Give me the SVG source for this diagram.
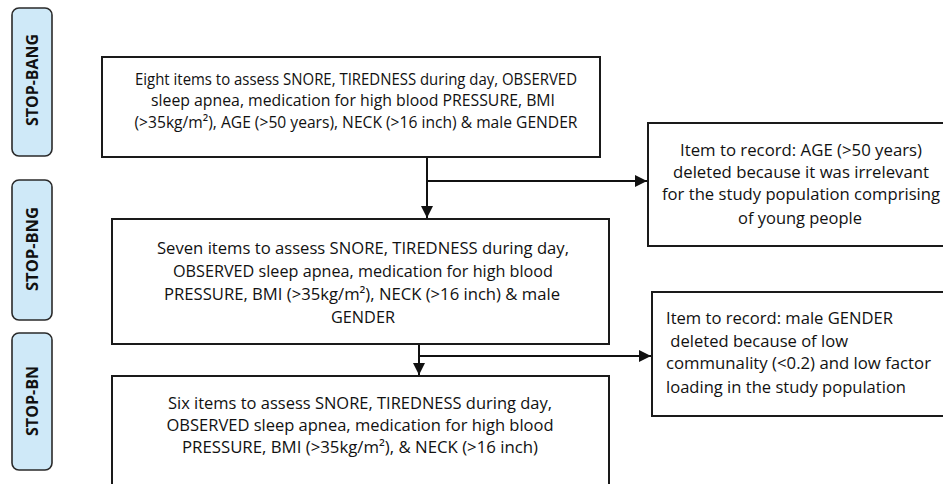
<svg xmlns="http://www.w3.org/2000/svg" width="943" height="484" viewBox="0 0 943 484">
<style>
.pill{fill:#cfe9f8;stroke:#2a2a2a;stroke-width:1.6}
.box{fill:#fff;stroke:#1a1a1a;stroke-width:2}
.lbl{font-family:"Open Sans","Noto Sans",sans-serif;font-weight:bold;font-size:16.5px;fill:#111;text-anchor:middle}
.t{font-family:"Open Sans","Noto Sans",sans-serif;font-size:16.5px;fill:#111;text-anchor:middle}
.tl{font-family:"Open Sans","Noto Sans",sans-serif;font-size:16.5px;fill:#111}
.c{stroke:#111;stroke-width:2;fill:none}
</style>
<defs>
<marker id="ah" viewBox="0 0 10 10" refX="10" refY="5" markerWidth="6" markerHeight="6" orient="auto" markerUnits="strokeWidth">
<path d="M0,0 L10,5 L0,10 Z" fill="#111"/>
</marker>
</defs>
<rect width="943" height="484" fill="#fff"/>

<g id="label-stop-bang">
<rect class="pill" x="12" y="8" width="40" height="148" rx="7"/>
<text class="lbl" transform="translate(38,80) rotate(-90)" textLength="92" lengthAdjust="spacingAndGlyphs">STOP-BANG</text>
</g>
<g id="label-stop-bng">
<rect class="pill" x="12" y="180" width="40" height="140" rx="7"/>
<text class="lbl" transform="translate(38,249) rotate(-90)" textLength="84" lengthAdjust="spacingAndGlyphs">STOP-BNG</text>
</g>
<g id="label-stop-bn">
<rect class="pill" x="12" y="333" width="40" height="137" rx="7"/>
<text class="lbl" transform="translate(38,401) rotate(-90)" textLength="70" lengthAdjust="spacingAndGlyphs">STOP-BN</text>
</g>

<g id="connectors">
<path class="c" d="M427,157 V218" marker-end="url(#ah)"/>
<path class="c" d="M427,181 H647" marker-end="url(#ah)"/>
<path class="c" d="M419,344 V375" marker-end="url(#ah)"/>
<path class="c" d="M419,356 H651" marker-end="url(#ah)"/>
</g>

<g id="stop-bang">
<rect class="box" x="102" y="57" width="498" height="100"/>
<text class="t" x="356" y="85" textLength="442" lengthAdjust="spacingAndGlyphs">Eight items to assess SNORE, TIREDNESS during day, OBSERVED</text>
<text class="t" x="353" y="106" textLength="404" lengthAdjust="spacingAndGlyphs">sleep apnea, medication for high blood PRESSURE, BMI</text>
<text class="t" x="356" y="128" textLength="443" lengthAdjust="spacingAndGlyphs">(&gt;35kg/m²), AGE (&gt;50 years), NECK (&gt;16 inch) &amp; male GENDER</text>
</g>

<g id="note-age">
<rect class="box" x="648" y="123" width="300" height="123"/>
<text class="t" x="801" y="156" textLength="242" lengthAdjust="spacingAndGlyphs">Item to record: AGE (&gt;50 years)</text>
<text class="t" x="801" y="178" textLength="256" lengthAdjust="spacingAndGlyphs">deleted because it was irrelevant</text>
<text class="t" x="801" y="200" textLength="278" lengthAdjust="spacingAndGlyphs">for the study population comprising</text>
<text class="t" x="800" y="224" textLength="124" lengthAdjust="spacingAndGlyphs">of young people</text>
</g>

<g id="stop-bng">
<rect class="box" x="112" y="219" width="497" height="125"/>
<text class="t" x="363" y="254" textLength="412" lengthAdjust="spacingAndGlyphs">Seven items to assess SNORE, TIREDNESS during day,</text>
<text class="t" x="363" y="277" textLength="380" lengthAdjust="spacingAndGlyphs">OBSERVED sleep apnea, medication for high blood</text>
<text class="t" x="362" y="300" textLength="396" lengthAdjust="spacingAndGlyphs">PRESSURE, BMI (&gt;35kg/m²), NECK (&gt;16 inch) &amp; male</text>
<text class="t" x="363" y="323" textLength="64" lengthAdjust="spacingAndGlyphs">GENDER</text>
</g>

<g id="note-gender">
<rect class="box" x="652" y="292" width="300" height="124"/>
<text class="tl" x="666" y="324" textLength="227" lengthAdjust="spacingAndGlyphs">Item to record: male GENDER</text>
<text class="tl" x="666" y="347" xml:space="preserve" textLength="182" lengthAdjust="spacingAndGlyphs"> deleted because of low</text>
<text class="tl" x="666" y="369" textLength="265" lengthAdjust="spacingAndGlyphs">communality (&lt;0.2) and low factor</text>
<text class="tl" x="666" y="393" textLength="240" lengthAdjust="spacingAndGlyphs">loading in the study population</text>
</g>

<g id="stop-bn">
<rect class="box" x="112" y="376" width="497" height="130"/>
<text class="t" x="360" y="409" textLength="384" lengthAdjust="spacingAndGlyphs">Six items to assess SNORE, TIREDNESS during day,</text>
<text class="t" x="360" y="431" textLength="387" lengthAdjust="spacingAndGlyphs">OBSERVED sleep apnea, medication for high blood</text>
<text class="t" x="360" y="453" textLength="356" lengthAdjust="spacingAndGlyphs">PRESSURE, BMI (&gt;35kg/m²), &amp; NECK (&gt;16 inch)</text>
</g>
</svg>
